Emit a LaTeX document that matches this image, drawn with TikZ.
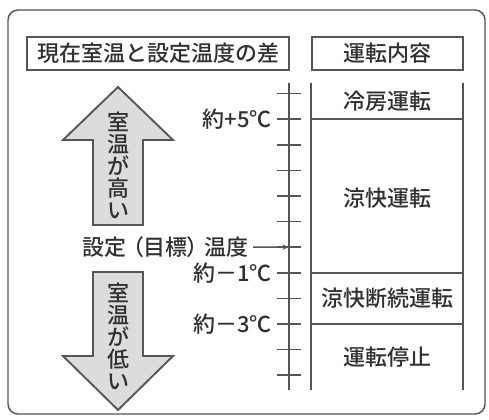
\documentclass[tikz,border=0pt]{standalone}
\usepackage{fontspec}
\setmainfont{Noto Sans CJK JP}[BoldFont={* Medium}]
\definecolor{linegray}{HTML}{555555}
\definecolor{inkgray}{HTML}{303030}
\definecolor{arrowfill}{HTML}{DCDCDC}
\usetikzlibrary{arrows.meta, positioning, calc}
\tikzset{
  headbox/.style={
    draw=linegray, line width=1.1pt, inner sep=0pt,
    minimum height=24.75pt, text=inkgray,
    font=\fontsize{16.5}{16.5}\selectfont\bfseries
  },
  lbl/.style={
    inner sep=0pt, text=inkgray, font=\fontsize{16.5}{16.5}\selectfont\bfseries
  },
  vlbl/.style={
    lbl, align=center, font=\fontsize{16.5}{16.5}\selectfont\bfseries
  },
  bigarrow/.style={
    draw=linegray, fill=arrowfill, line width=1.4pt, line join=miter
  },
  rule/.style={draw=linegray, line width=1.2pt},
  arr/.style={-{Stealth[length=5pt,width=4pt]}, line width=1pt, color=linegray},
}

\begin{document}
\begin{tikzpicture}[x=0.75pt, y=-0.75pt]
  \useasboundingbox (0,0) rectangle (489,419);

  % frame
  \draw[draw=linegray, line width=1.1pt, rounded corners=7.5pt]
    (8,10) rectangle (485,414);

  % headers
  \node[headbox, minimum width=196.5pt] (diffhead) at (158,53.5)
    {現在室温と設定温度の差};
  \node[headbox, minimum width=113.25pt] (modehead) at (387.5,53.5)
    {運転内容};

  % scale
  \draw[rule] (289,83) -- (289,390);
  \foreach \i in {0,...,11}
    \draw[rule] (277,93.5+\i*25.6) -- (301,93.5+\i*25.6)
      coordinate[pos=0.5] (tick\i);

  % mode column
  \draw[rule] (311,83) -- (311,390);
  \draw[rule] (463,83) -- (463,390);
  \draw[rule] (311,93.5+1*25.6) -- (463,93.5+1*25.6);
  \draw[rule] (311,93.5+7*25.6) -- (463,93.5+7*25.6);
  \draw[rule] (311,93.5+9*25.6) -- (463,93.5+9*25.6);

  \node[lbl] (cool) at (387,101) {冷房運転};
  \node[lbl] (comfort) at (387,198) {涼快運転};
  \node[lbl] (interm) at (387,298.5) {涼快断続運転};
  \node[lbl] (stop) at (387,357) {運転停止};

  % temperature labels
  \node[lbl, anchor=east] (plus5) at (272,119.1) {約+5℃};
  \node[lbl, anchor=east] (target) at (249,247.1)
    {\addfontfeatures{RawFeature=+palt}設定\hspace{4.5pt}（目標）\hspace{4.5pt}温度};
  \node[lbl, anchor=east] (minus1) at (272,272.7) {約－1℃};
  \node[lbl, anchor=east] (minus3) at (272,323.9) {約－3℃};
  \draw[arr] (target.east) ++(3pt,0) -- (tick6);

  % big arrows
  \draw[bigarrow] (118,87) -- (173,140) -- (143,140) -- (143,225)
    -- (93,225) -- (93,140) -- (63,140) -- cycle;
  \node[vlbl] (higher) at (118,165) {室\\温\\が\\高\\い};

  \draw[bigarrow] (93,272) -- (143,272) -- (143,356) -- (173,356)
    -- (118,410) -- (63,356) -- (93,356) -- cycle;
  \node[vlbl] (lower) at (118,336) {室\\温\\が\\低\\い};
\end{tikzpicture}
\end{document}
